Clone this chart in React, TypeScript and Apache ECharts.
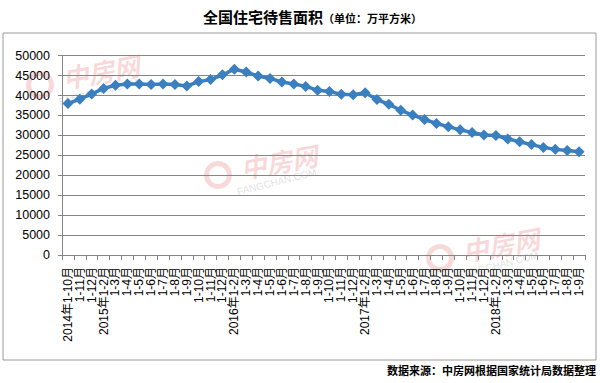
import React, { useEffect, useRef } from "react";
import * as echarts from "echarts";

const categories = [
  "2014年1-10月", "1-11月", "1-12月",
  "2015年1-2月", "1-3月", "1-4月", "1-5月", "1-6月", "1-7月", "1-8月", "1-9月", "1-10月", "1-11月", "1-12月",
  "2016年1-2月", "1-3月", "1-4月", "1-5月", "1-6月", "1-7月", "1-8月", "1-9月", "1-10月", "1-11月", "1-12月",
  "2017年1-2月", "1-3月", "1-4月", "1-5月", "1-6月", "1-7月", "1-8月", "1-9月", "1-10月", "1-11月", "1-12月",
  "2018年1-2月", "1-3月", "1-4月", "1-5月", "1-6月", "1-7月", "1-8月", "1-9月",
];

const unsoldArea = [
  38000, 39100, 40400,
  41800, 42600, 42900, 42900, 42800, 42900, 42800, 42400, 43500, 44000, 45200,
  46600, 45900, 44900, 44300, 43400, 42900, 42300, 41350, 41000, 40300, 40200,
  40700, 39000, 37800, 36300, 35100, 34000, 33000, 32200, 31400, 30750, 30100,
  30000, 29100, 28400, 27700, 27000, 26500, 26200, 25900,
];

const yTicks = { min: 0, max: 50000, interval: 5000 };

const titleMain = "全国住宅待售面积";
const titleUnit = "（单位：万平方米）";
const sourceNote = "数据来源：中房网根据国家统计局数据整理";

const FONT = "'Liberation Sans', Arial, 'Noto Sans CJK SC', sans-serif";
const CJK = "'Noto Sans CJK SC', 'Liberation Sans', sans-serif";

function watermark(x: number, y: number) {
  return {
    type: "group",
    x,
    y,
    silent: true,
    children: [
      {
        type: "ring",
        shape: { cx: 0, cy: 0, r: 14, r0: 9 },
        style: { fill: "rgba(225,80,80,0.22)" },
      },
      {
        type: "text",
        x: 20,
        y: -20,
        rotation: 0.18,
        style: {
          text: "中房网",
          fontSize: 26,
          fontStyle: "italic",
          fontWeight: "bold",
          fontFamily: CJK,
          fill: "rgba(225,80,80,0.22)",
        },
      },
      {
        type: "text",
        x: 18,
        y: 12,
        rotation: 0.25,
        style: {
          text: "FANGCHAN.COM",
          fontSize: 10,
          fontFamily: FONT,
          fill: "rgba(150,150,150,0.3)",
        },
      },
    ],
  };
}

export default function App() {
  const ref = useRef<HTMLDivElement>(null);

  useEffect(() => {
    if (!ref.current) return;
    const chart = echarts.init(ref.current, null, { renderer: "svg" });
    chart.setOption({
      animation: false,
      backgroundColor: "#ffffff",
      title: {
        text: `{a|${titleMain}}{b|${titleUnit}}`,
        left: 198,
        top: 4,
        textStyle: {
          rich: {
            a: { fontSize: 15, fontWeight: "bold", fontFamily: CJK, color: "#000" },
            b: { fontSize: 11, fontWeight: "bold", fontFamily: CJK, color: "#000", padding: [3, 0, 0, 0] },
          },
        },
      },
      grid: { left: 62, right: 15, top: 55.7, bottom: 128 },
      xAxis: {
        type: "category",
        data: categories,
        boundaryGap: true,
        axisLine: { lineStyle: { color: "#868686" } },
        axisTick: { show: true, length: 5, lineStyle: { color: "#868686" } },
        axisLabel: {
          rotate: 90,
          interval: 0,
          margin: 12,
          fontSize: 12,
          color: "#000",
          fontFamily: FONT,
        },
      },
      yAxis: {
        type: "value",
        min: yTicks.min,
        max: yTicks.max,
        interval: yTicks.interval,
        axisLine: { show: true, lineStyle: { color: "#868686" } },
        axisTick: { show: true, length: 4, lineStyle: { color: "#868686" } },
        axisLabel: {
          fontSize: 12.5,
          color: "#000",
          fontFamily: FONT,
          margin: 12,
          formatter: (v: number) => String(v),
        },
        splitLine: { lineStyle: { color: "#868686" } },
      },
      series: [
        {
          type: "line",
          data: unsoldArea,
          symbol: "diamond",
          symbolSize: 11,
          lineStyle: { color: "#3a7fc0", width: 3.5 },
          itemStyle: { color: "#3a7fc0" },
        },
      ],
      graphic: [
        {
          type: "rect",
          shape: { x: 3, y: 33, width: 593, height: 327 },
          style: { fill: "none", stroke: "#9a9a9a", lineWidth: 1 },
          silent: true,
          z: -1,
        },
        watermark(40, 85),
        watermark(218, 175),
        watermark(440, 258),
        {
          type: "text",
          right: 4,
          top: 364,
          style: {
            text: sourceNote,
            fontSize: 11,
            fontWeight: "bold",
            fontFamily: CJK,
            fill: "#000",
          },
        },
      ],
    });
    return () => chart.dispose();
  }, []);

  return (
    <div
      ref={ref}
      style={{ position: "fixed", left: 0, top: 0, width: 600, height: 383 }}
    />
  );
}
